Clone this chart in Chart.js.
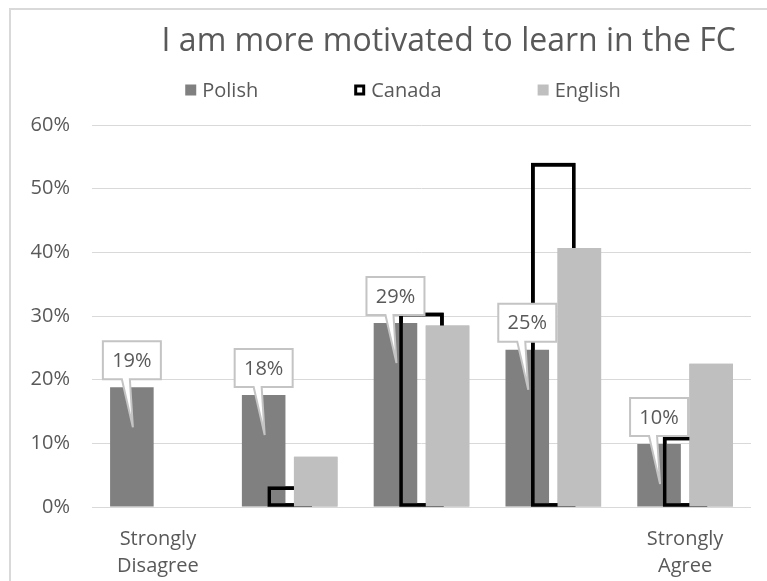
<!DOCTYPE html>
<html>
<head>
<meta charset="utf-8">
<title>I am more motivated to learn in the FC</title>
<script src="https://cdn.jsdelivr.net/npm/chart.js@4.4.1/dist/chart.umd.min.js"></script>
<style>
  html, body { margin: 0; padding: 0; background: #fff; }
  #wrap { position: relative; width: 767px; height: 581px; overflow: hidden; }
  /* світло-сіра рамка області діаграми */
  #frame { position: absolute; left: 9px; top: 8px; width: 800px; height: 600px;
           border: 2px solid #d9d9d9; box-sizing: border-box; }
  canvas { position: absolute; left: 0; top: 0; }
</style>
</head>
<body>
<div id="wrap">
  <div id="frame"></div>
  <canvas id="chart" width="767" height="581"></canvas>
</div>
<script>
// ========== ДАНІ ==========
const categories = [['Strongly', 'Disagree'], '', '', '', ['Strongly', 'Agree']];
const seriesNames = ['Polish', 'Canada', 'English'];
const polish = [18.8, 17.6, 28.9, 24.7, 9.9];
const canada = [0, 3.2, 30.5, 54, 11];
const english = [0, 7.9, 28.5, 40.7, 22.5];
const yTicks = [0, 10, 20, 30, 40, 50, 60];
const titleText = 'I am more motivated to learn in the FC';

const FONT = '"Open Sans", "Noto Sans", sans-serif';
const TEXT = '#595959';
const COLORS = { Polish: '#808080', Canada: '#000000', English: '#bfbfbf' };

// ========== ВИНОСКИ З ВІДСОТКАМИ НАД СТОВПЦЯМИ POLISH ==========
function drawCallout(ctx, el, text) {
  const w = 58, h = 38;
  const cx = el.x;
  const bottom = el.y - 8, top = bottom - h;
  const left = cx - w / 2, right = cx + w / 2;
  ctx.beginPath();
  ctx.moveTo(left, top);
  ctx.lineTo(right, top);
  ctx.lineTo(right, bottom);
  ctx.lineTo(cx - 2, bottom);
  ctx.lineTo(cx + 1, el.y + 40);   // хвостик виноски
  ctx.lineTo(cx - 10, bottom);
  ctx.lineTo(left, bottom);
  ctx.closePath();
  ctx.fillStyle = '#ffffff';
  ctx.fill();
  ctx.strokeStyle = '#c4c4c4';
  ctx.lineWidth = 2;
  ctx.stroke();
  ctx.fillStyle = TEXT;
  ctx.font = '20px ' + FONT;
  ctx.textAlign = 'center';
  ctx.textBaseline = 'middle';
  ctx.fillText(text, cx, (top + bottom) / 2 + 1);
}

// Canada малюється поверх Polish, English — поверх Canada, виноски — зверху
const overlayPlugin = {
  id: 'overlay',
  afterDatasetsDraw(chart) {
    const ctx = chart.ctx;
    ctx.save();
    chart.getDatasetMeta(1).data.forEach(el => el.draw(ctx));
    chart.getDatasetMeta(2).data.forEach(el => el.draw(ctx));
    chart.getDatasetMeta(0).data.forEach((el, i) => {
      drawCallout(ctx, el, Math.round(polish[i]) + '%');
    });
    ctx.restore();
  }
};

// ========== ЗАГОЛОВОК І ЛЕГЕНДА ==========
const headerPlugin = {
  id: 'header',
  afterDraw(chart) {
    const ctx = chart.ctx;
    ctx.save();
    ctx.fillStyle = TEXT;
    ctx.font = '32px ' + FONT;
    ctx.textAlign = 'right';
    ctx.textBaseline = 'alphabetic';
    ctx.fillText(titleText, 736, 51);

    // легенда: квадратик + назва, рівні проміжки між пунктами
    ctx.font = '20px ' + FONT;
    ctx.textBaseline = 'middle';
    ctx.textAlign = 'left';
    const box = 11, boxGap = 6, itemGap = 96, y = 90;
    const widths = seriesNames.map(n => box + boxGap + ctx.measureText(n).width);
    const total = widths.reduce((a, b) => a + b, 0) + itemGap * (seriesNames.length - 1);
    let x = 403 - total / 2;
    seriesNames.forEach((name, i) => {
      if (name === 'Canada') {
        ctx.fillStyle = '#ffffff';
        ctx.fillRect(x, y - box / 2, box, box);
        ctx.strokeStyle = '#000000';
        ctx.lineWidth = 3;
        ctx.strokeRect(x + 1.5, y - box / 2 + 1.5, box - 3, box - 3);
      } else {
        ctx.fillStyle = COLORS[name];
        ctx.fillRect(x, y - box / 2, box, box);
      }
      ctx.fillStyle = TEXT;
      ctx.fillText(name, x + box + boxGap, y + 1);
      x += widths[i] + itemGap;
    });
    ctx.restore();
  }
};

// ========== ІНІЦІАЛІЗАЦІЯ ДІАГРАМИ ==========
const barShape = { categoryPercentage: 0.79, barPercentage: 0.837, borderWidth: 0 };

new Chart(document.getElementById('chart'), {
  type: 'bar',
  data: {
    labels: categories,
    datasets: [
      { label: seriesNames[0], data: polish, backgroundColor: COLORS.Polish, ...barShape },
      {
        label: seriesNames[1], data: canada,
        grouped: false, barThickness: 44,
        backgroundColor: 'rgba(0,0,0,0)', borderColor: COLORS.Canada,
        borderWidth: 3, borderSkipped: false
      },
      { label: seriesNames[2], data: english, backgroundColor: COLORS.English, ...barShape }
    ]
  },
  options: {
    responsive: false,
    animation: false,
    events: [],
    layout: { padding: { top: 125, right: 16, bottom: 0, left: 0 } },
    plugins: {
      legend: { display: false },
      title: { display: false },
      tooltip: { enabled: false }
    },
    scales: {
      x: {
        grid: { display: false, drawTicks: false },
        border: { display: false },
        ticks: {
          color: TEXT, padding: 18, maxRotation: 0, autoSkip: false,
          font: { family: FONT, size: 20, lineHeight: 1.38 }
        },
        afterFit: scale => { scale.height = 74; }
      },
      y: {
        min: yTicks[0],
        max: yTicks[yTicks.length - 1],
        grid: { color: '#d9d9d9', lineWidth: 1, drawTicks: false },
        border: { display: false },
        ticks: {
          stepSize: yTicks[1] - yTicks[0],
          color: TEXT, padding: 22,
          font: { family: FONT, size: 20 },
          callback: v => v + '%'
        },
        afterFit: scale => { scale.width = 92; }
      }
    }
  },
  plugins: [overlayPlugin, headerPlugin]
});
</script>
</body>
</html>
